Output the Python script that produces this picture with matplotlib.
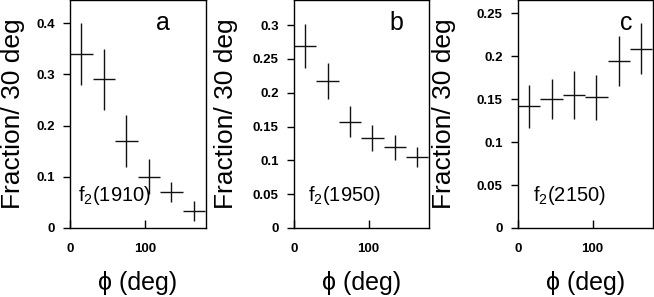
import numpy as np
import matplotlib
matplotlib.use("Agg")
import matplotlib.pyplot as plt

plt.rcParams['font.family'] = ['Liberation Sans', 'DejaVu Sans']
plt.rcParams['mathtext.fontset'] = 'custom'
plt.rcParams['mathtext.rm'] = 'Liberation Sans'
plt.rcParams['mathtext.it'] = 'Liberation Sans:italic'

# bin centres (deg), 30 deg bins
phi = [15, 45, 75, 105, 135, 165]
phi_err = [15, 15, 15, 15, 15, 15]

# f2(1910)
frac_a = [0.34, 0.29, 0.17, 0.10, 0.07, 0.033]
err_a = [0.06, 0.06, 0.05, 0.034, 0.02, 0.02]
# f2(1950)
frac_b = [0.269, 0.217, 0.157, 0.133, 0.119, 0.105]
err_b = [0.033, 0.027, 0.023, 0.019, 0.018, 0.015]
# f2(2150)
frac_c = [0.142, 0.150, 0.155, 0.152, 0.194, 0.209]
err_c = [0.025, 0.023, 0.028, 0.026, 0.029, 0.03]

panels = [
    # (values, errors, letter, state, ymax, yticks, ticklabels)
    (frac_a, err_a, 'a', '1910', 0.445, [0, 0.1, 0.2, 0.3, 0.4], ['0', '0.1', '0.2', '0.3', '0.4']),
    (frac_b, err_b, 'b', '1950', 0.337, [0, 0.05, 0.1, 0.15, 0.2, 0.25, 0.3],
     ['0', '0.05', '0.1', '0.15', '0.2', '0.25', '0.3']),
    (frac_c, err_c, 'c', '2150', 0.2655, [0, 0.05, 0.1, 0.15, 0.2, 0.25],
     ['0', '0.05', '0.1', '0.15', '0.2', '0.25']),
]

W, H = 654, 297
fig = plt.figure(figsize=(W / 100, H / 100), dpi=100)

lefts = [70, 294, 518]
widths = [136, 135, 135]
letter_x = [0.68, 0.76, 0.805]
state_x = [0.06, 0.10, 0.11]
ylab_x = [25, 238, 456]   # right edge of the rotated y label, px

for i, (vals, errs, letter, state, ymax, yt, ytl) in enumerate(panels):
    ax = fig.add_axes([lefts[i] / W, 1 - 228 / H, widths[i] / W, 228 / H])
    ax.errorbar(phi, vals, xerr=phi_err, yerr=errs, fmt='none',
                ecolor='#111111', elinewidth=1.0, capsize=0)
    ax.set_xlim(0, 181)
    ax.set_ylim(0, ymax)
    ax.set_xticks([0, 100])
    ax.set_xticklabels(['0', '100'])
    ax.set_yticks(yt)
    ax.set_yticklabels(ytl)
    ax.tick_params(axis='x', direction='in', length=6, width=1, pad=11,
                   labelsize=9.5)
    ax.tick_params(axis='y', direction='out', length=5, width=1, pad=6,
                   labelsize=9.5)
    for lab in ax.get_xticklabels() + ax.get_yticklabels():
        lab.set_fontweight('bold')
    for sp in ax.spines.values():
        sp.set_linewidth(1.0)
    ax.text(letter_x[i], 0.90, letter, transform=ax.transAxes,
            fontsize=18, ha='center', va='center')
    ax.text(state_x[i], 0.12, r'f$_{\mathrm{2}}$(' + state + ')',
            transform=ax.transAxes, fontsize=14.5, ha='left', va='baseline')
    ax.set_ylabel('Fraction/ 30 deg', fontsize=19)
    ax.yaxis.set_label_coords((ylab_x[i] - lefts[i]) / widths[i], 0.5)
    ax.set_xlabel('ϕ (deg)', fontsize=18)
    ax.xaxis.set_label_coords(0.5, -0.19)

fig.savefig('out.png', dpi=100)
